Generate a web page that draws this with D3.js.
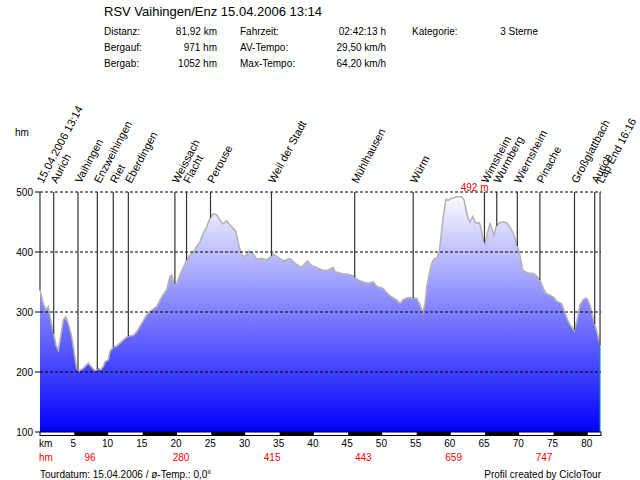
<!DOCTYPE html>
<html>
<head>
<meta charset="utf-8">
<script src="https://cdn.jsdelivr.net/npm/d3@7"></script>
<style>
  body { margin: 0; background: #fff; }
  svg text { font-family: "Liberation Sans", Arial, sans-serif; }
</style>
</head>
<body>
<svg id="chart" width="640" height="480"></svg>
<script>
// tour header
let title = "RSV Vaihingen/Enz 15.04.2006 13:14";
let infoLabels = [["Distanz:", "Bergauf:", "Bergab:"], ["Fahrzeit:", "AV-Tempo:", "Max-Tempo:"], ["Kategorie:"]];
let infoValues = [["81,92 km", "971 hm", "1052 hm"], ["02:42:13 h", "29,50 km/h", "64,20 km/h"], ["3 Sterne"]];
let footerLeft = "Tourdatum: 15.04.2006  /  ø-Temp.: 0,0°";
let footerRight = "Profil created by CicloTour";

// height profile (km / m)
let distKm = [0, 0.48, 0.88, 1.21, 1.56, 1.94, 2.34, 2.67, 3.02, 3.40, 3.75, 4.13, 4.63, 5.01, 5.36, 5.74,
  6.32, 7.05, 7.45, 8.03, 8.51, 8.86, 9.24, 9.49, 9.97, 10.22, 10.70, 11.20, 11.68, 12.41, 12.89, 13.62,
  14.12, 14.85, 15.58, 16.31, 17.04, 17.77, 18.50, 18.98, 19.23, 19.57, 19.96, 20.44, 20.93, 21.42, 21.90,
  22.39, 22.88, 23.36, 23.85, 24.34, 24.82, 25.31, 25.80, 26.28, 26.68, 27.26, 27.75, 28.23, 28.62, 28.96,
  29.45, 29.94, 30.56, 31.15, 31.64, 32.37, 33.10, 33.69, 34.07, 34.80, 35.53, 36.51, 37.24, 38.21, 39.03,
  39.68, 40.41, 41.37, 42.10, 42.83, 43.08, 44.06, 45.02, 45.75, 46.48, 47.21, 47.94, 48.67, 49.17, 50.13,
  50.63, 51.36, 52.09, 52.57, 53.05, 53.78, 54.51, 55.01, 55.49, 55.88, 56.22, 56.47, 56.85, 57.20, 57.54,
  57.93, 58.31, 58.66, 58.89, 59.29, 59.62, 59.97, 60.35, 60.85, 61.58, 61.92, 62.21, 62.54, 62.79, 63.19,
  63.52, 63.77, 64.15, 64.35, 64.65, 64.98, 65.32, 65.71, 66.05, 66.30, 66.59, 67.07, 67.66, 68.24, 68.74,
  69.22, 69.61, 69.99, 70.20, 70.49, 70.82, 71.31, 72.04, 72.62, 73.01, 73.50, 73.89, 74.47, 75.06, 75.54,
  76.18, 76.67, 77.15, 77.64, 78.02, 78.43, 78.86, 79.35, 79.83, 80.32, 80.71, 81.05, 81.40, 81.78];
let heightM = [337, 314, 303, 309, 287, 267, 245, 236, 259, 287, 292, 281, 259, 231, 206, 202,
  206, 215, 209, 202, 206, 204, 209, 217, 220, 234, 242, 243, 248, 256, 260, 261,
  267, 281, 295, 303, 309, 325, 337, 359, 362, 347, 347, 362, 374, 387, 395,
  400, 409, 417, 431, 442, 456, 464, 462, 453, 447, 452, 445, 439, 434, 414,
  395, 392, 402, 397, 388, 389, 387, 392, 397, 391, 385, 389, 381, 374, 385,
  377, 374, 369, 370, 374, 367, 364, 363, 360, 353, 350, 348, 350, 343, 339,
  332, 325, 320, 314, 321, 324, 323, 323, 312, 299, 314, 342, 364, 381, 389,
  390, 400, 437, 459, 488, 486, 489, 490, 492, 492, 487, 470, 456, 450, 459,
  450, 448, 449, 442, 425, 413, 431, 447, 437, 428, 442, 449, 450, 448, 439,
  428, 413, 400, 387, 370, 367, 365, 364, 359, 353, 339, 331, 328, 324, 317,
  314, 298, 284, 275, 269, 287, 312, 321, 323, 312, 292, 278, 264, 245];

// waypoints
let wpNames = ["15.04.2006 13:14", "Aurich", "Vaihingen", "Enzweihingen", "Riet", "Eberdingen", "Weissach",
  "Flacht", "Perouse", "Weil der Stadt", "Mühlhausen", "Würm", "Wimsheim", "Wurmberg", "Wiernsheim",
  "Pinache", "Großglattbach", "Aurich", "Lap End 16:16"];
let wpKm = [0, 2.0, 5.55, 8.37, 10.7, 12.9, 19.7, 21.4, 24.9, 33.8, 45.95, 54.5, 64.9, 66.7, 69.7,
  73.0, 78.05, 81.0, 81.78];

// axes
let totalKm = 81.92;
let kmTicks = [5, 10, 15, 20, 25, 30, 35, 40, 45, 50, 55, 60, 65, 70, 75, 80];
let hmTicks = [500, 400, 300, 200, 100];
let climbKm = [7.3, 20.6, 33.9, 47.2, 60.4, 73.6];
let climbHm = [96, 280, 415, 443, 659, 747];

let svg = d3.select("#chart");
let profile = distKm.map((km, i) => ({km: km, h: heightM[i]}));

let x = d3.scaleLinear().domain([0, totalKm]).range([40, 601]);
let y = d3.scaleLinear().domain([100, 500]).range([432, 192]);

let heightAt = (km) => {
  let i = d3.bisector(d => d.km).left(profile, km);
  if (i <= 0) return profile[0].h;
  if (i >= profile.length) return profile[profile.length - 1].h;
  let a = profile[i - 1], b = profile[i];
  return a.h + (b.h - a.h) * (km - a.km) / (b.km - a.km);
};

// header
svg.append("text").attr("x", 104).attr("y", 16).style("font-size", "13px").text(title);
let labelX = [104, 240, 412];
let valueX = [217, 386, 538];
infoLabels.forEach((col, c) => {
  col.forEach((t, r) => {
    svg.append("text").attr("x", labelX[c]).attr("y", 35 + r * 16)
      .style("font-size", "10px").text(t);
    svg.append("text").attr("x", valueX[c]).attr("y", 35 + r * 16)
      .attr("text-anchor", "end").style("font-size", "10px").text(infoValues[c][r]);
  });
});

// gradient fill
let grad = svg.append("defs").append("linearGradient").attr("id", "fillGrad")
  .attr("gradientUnits", "userSpaceOnUse")
  .attr("x1", 0).attr("y1", y(500)).attr("x2", 0).attr("y2", y(100));
grad.append("stop").attr("offset", "0%").attr("stop-color", "#ffffff");
grad.append("stop").attr("offset", "100%").attr("stop-color", "#0000ff");

let area = d3.area().x(d => x(d.km)).y0(y(100)).y1(d => y(d.h));
let line = d3.line().x(d => x(d.km)).y(d => y(d.h));

svg.append("path").datum(profile).attr("d", area).attr("fill", "url(#fillGrad)");
svg.append("path").datum(profile).attr("d", line)
  .attr("fill", "none").attr("stroke", "#b4b4b4").attr("stroke-width", 1.6);
let last = profile[profile.length - 1];
svg.append("line").attr("x1", x(last.km)).attr("x2", x(last.km))
  .attr("y1", y(last.h)).attr("y2", y(100)).attr("stroke", "#00a0a0").attr("stroke-width", 1);

// grid lines + y labels
svg.append("g").selectAll("line").data(hmTicks.filter(d => d > 100)).enter().append("line")
  .attr("x1", 40).attr("x2", 601).attr("y1", d => y(d)).attr("y2", d => y(d))
  .attr("stroke", "#000").attr("stroke-dasharray", "3,2").attr("stroke-width", 1);
svg.append("g").selectAll("line").data(hmTicks).enter().append("line")
  .attr("x1", 35).attr("x2", 40).attr("y1", d => y(d)).attr("y2", d => y(d))
  .attr("stroke", "#000");
svg.append("g").selectAll("text").data(hmTicks).enter().append("text")
  .attr("x", 33).attr("y", d => y(d) + 3.5).attr("text-anchor", "end")
  .style("font-size", "10px").text(d => d);
svg.append("text").attr("x", 15).attr("y", 136).style("font-size", "10px").text("hm");

// km band
let segs = d3.range(Math.ceil(totalKm / 5));
svg.append("g").selectAll("rect").data(segs).enter().append("rect")
  .attr("x", d => x(d * 5)).attr("width", d => x(Math.min(d * 5 + 5, totalKm)) - x(d * 5))
  .attr("y", y(100)).attr("height", 3.5)
  .attr("fill", d => d % 2 ? "#000" : "#fff");
svg.append("rect").attr("x", x(0)).attr("y", y(100)).attr("width", x(totalKm) - x(0)).attr("height", 3.5)
  .attr("fill", "none").attr("stroke", "#000").attr("stroke-width", 1);

svg.append("text").attr("x", 39).attr("y", 447).style("font-size", "10px").text("km");
svg.append("g").selectAll("text").data(kmTicks).enter().append("text")
  .attr("x", d => x(d) - 1).attr("y", 447).attr("text-anchor", "middle")
  .style("font-size", "10px").text(d => d);

svg.append("text").attr("x", 39).attr("y", 461).attr("fill", "#ff0000").style("font-size", "10px").text("hm");
svg.append("g").selectAll("text").data(climbKm).enter().append("text")
  .attr("x", d => x(d)).attr("y", 461).attr("text-anchor", "middle").attr("fill", "#ff0000")
  .style("font-size", "10px").text((d, i) => climbHm[i]);

// waypoints
let wp = svg.append("g");
wpKm.forEach((km, i) => {
  wp.append("line").attr("x1", x(km)).attr("x2", x(km))
    .attr("y1", y(500)).attr("y2", y(heightAt(km)))
    .attr("stroke", "#333").attr("stroke-width", 1.2);
  wp.append("text").attr("transform", `translate(${x(km) + 3},184) rotate(-62)`)
    .style("font-size", "11px").text(wpNames[i]);
});

// maximum
let maxP = profile.reduce((a, b) => b.h > a.h ? b : a);
svg.append("text").attr("x", x(maxP.km) + 4).attr("y", y(maxP.h) - 6)
  .attr("fill", "#ff0000").style("font-size", "10px").text(`${maxP.h} m`);

// footer
svg.append("text").attr("x", 40).attr("y", 478).style("font-size", "10px").text(footerLeft);
svg.append("text").attr("x", 601).attr("y", 478).attr("text-anchor", "end")
  .style("font-size", "10px").text(footerRight);
</script>
</body>
</html>
